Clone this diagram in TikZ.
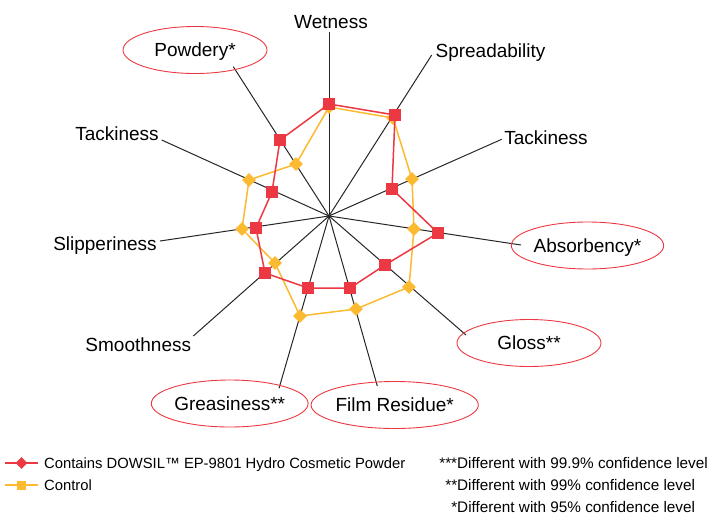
\documentclass[tikz,border=0pt]{standalone}
\usepackage{fontspec}
\setmainfont{Liberation Sans}
\usetikzlibrary{shapes.geometric}
\definecolor{sred}{RGB}{236,56,66}
\definecolor{sorange}{RGB}{252,186,48}
\begin{document}
\begin{tikzpicture}[x=1pt,y=-1pt,
 axisline/.style={line width=1.0pt, black!85},
 lbl/.style={font=\fontsize{19}{22}\selectfont, inner sep=0pt, anchor=base},
 ell/.style={ellipse, draw=sred, line width=0.9pt, minimum width=144pt, minimum height=47pt, inner sep=0pt, font=\fontsize{19}{22}\selectfont, text height=13.6pt, text depth=0pt},
 rline/.style={sred, line width=1.5pt, line join=round},
 oline/.style={sorange, line width=1.5pt, line join=round},
 rmark/.style={rectangle, fill=sred, minimum size=12.5pt, inner sep=0pt},
 omark/.style={diamond, fill=sorange, minimum size=14pt, inner sep=0pt},
 legtext/.style={font=\fontsize{15.3}{18}\selectfont, inner sep=0pt, anchor=base west},
 legleft/.style={font=\fontsize{14.8}{18}\selectfont, inner sep=0pt, anchor=base west}]
\useasboundingbox (0,0) rectangle (709,517);
% centre and axis ends
\coordinate (c) at (329,216);
\coordinate (e1) at (329,32);
\coordinate (e2) at (431.7,55);
\coordinate (e3) at (501.7,139.3);
\coordinate (e4) at (521,245);
\coordinate (e5) at (466,335);
\coordinate (e6) at (377.3,386);
\coordinate (e7) at (279,388.3);
\coordinate (e8) at (193.3,336);
\coordinate (e9) at (160,241);
\coordinate (e10) at (161.7,140);
\coordinate (e11) at (233.3,66.7);
\foreach \i in {1,...,11} \draw[axisline] (c) -- (e\i);
% labels
\node[lbl] (lwet) at (331,28) {Wetness};
\node[lbl] (lspr) at (490.5,57) {Spreadability};
\node[lbl] (ltackr) at (546,144) {Tackiness};
\node[lbl] (ltackl) at (117,140) {Tackiness};
\node[lbl] (lslip) at (105,250) {Slipperiness};
\node[lbl] (lsmooth) at (138.3,351) {Smoothness};
\node[ell] (lpow) at (195,50) {Powdery*\hspace{9pt}};
\node[ell] (labs) at (587.5,245.5) {Absorbency*};
\node[ell] (lgloss) at (529,343) {Gloss**};
\node[ell] (lgrease) at (229.7,403.5) {Greasiness**};
\node[ell] (lfilm) at (394.7,405) {Film Residue*};
% control series
\coordinate (o1) at (329,107);
\coordinate (o2) at (393,118);
\coordinate (o3) at (412,179);
\coordinate (o4) at (414,229);
\coordinate (o5) at (409,287);
\coordinate (o6) at (356,309);
\coordinate (o7) at (300,316);
\coordinate (o8) at (275,263);
\coordinate (o9) at (242,229);
\coordinate (o10) at (249,180);
\coordinate (o11) at (296,164);
\draw[oline] (o1) -- (o2) -- (o3) -- (o4) -- (o5) -- (o6) -- (o7) -- (o8) -- (o9) -- (o10) -- (o11) -- cycle;
\foreach \i in {1,...,11} \node[omark] (om\i) at (o\i) {};
% DOWSIL series
\coordinate (r1) at (329,104);
\coordinate (r2) at (395,115);
\coordinate (r3) at (392,189);
\coordinate (r4) at (438,233);
\coordinate (r5) at (385,265);
\coordinate (r6) at (350,288);
\coordinate (r7) at (308,288);
\coordinate (r8) at (265,273);
\coordinate (r9) at (256,228);
\coordinate (r10) at (272,192);
\coordinate (r11) at (280,140);
\draw[rline] (r1) -- (r2) -- (r3) -- (r4) -- (r5) -- (r6) -- (r7) -- (r8) -- (r9) -- (r10) -- (r11) -- cycle;
\foreach \i in {1,...,11} \node[rmark] (rm\i) at (r\i) {};
% legend
\coordinate (la1) at (5,463);
\coordinate (lb1) at (38,463);
\draw[sred, line width=2.5pt] (la1) -- (lb1);
\node[diamond, fill=sred, minimum size=12pt, inner sep=0pt] (lm1) at (21.5,463) {};
\coordinate (la2) at (5,485);
\coordinate (lb2) at (38,485);
\draw[sorange, line width=2.5pt] (la2) -- (lb2);
\node[rectangle, fill=sorange, minimum size=9pt, inner sep=0pt] (lm2) at (21.5,485) {};
\node[legleft] (lt1) at (44,468.5) {Contains DOWSIL™ EP-9801 Hydro Cosmetic Powder};
\node[legleft] (lt2) at (44,490.5) {Control};
\node[legtext] (n1) at (457,468.5) {\llap{***}Different with 99.9\% confidence level};
\node[legtext] (n2) at (457,490.5) {\llap{**}Different with 99\% confidence level};
\node[legtext] (n3) at (457,512.5) {\llap{*}Different with 95\% confidence level};
\end{tikzpicture}
\end{document}
